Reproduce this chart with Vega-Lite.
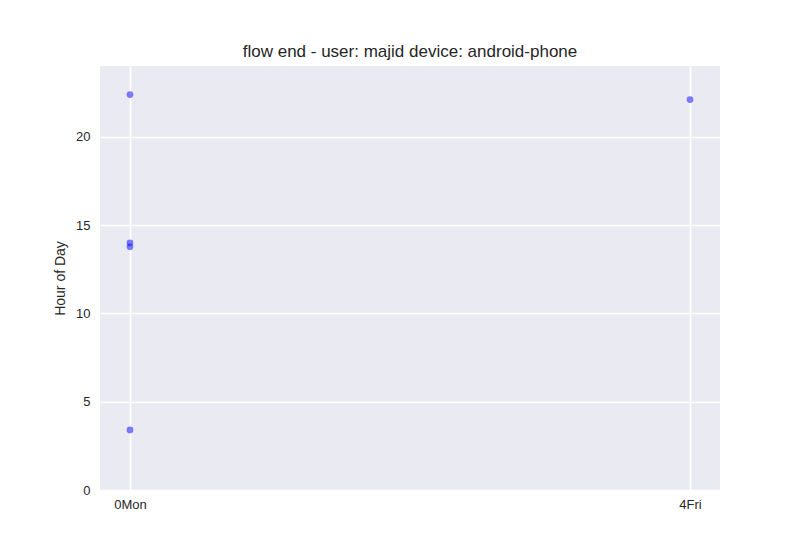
{
  "$schema": "https://vega.github.io/schema/vega-lite/v6.json",
  "width": 620,
  "height": 424,
  "autosize": {"type": "none"},
  "padding": {"left": 100, "top": 66, "right": 80, "bottom": 60},
  "background": "white",
  "title": {"text": "flow end - user: majid device: android-phone", "font": "Liberation Sans", "fontSize": 17, "fontWeight": "normal", "color": "#262626", "offset": 5},
  "config": {
    "view": {"fill": "#EAEAF2", "stroke": null},
    "axis": {"labelFont": "Liberation Sans", "titleFont": "Liberation Sans", "labelColor": "#262626", "titleColor": "#262626", "labelFontSize": 13, "titleFontSize": 14, "titleFontWeight": "normal", "ticks": false, "domain": false, "grid": true, "gridColor": "white", "gridWidth": 1.6}
  },
  "data": {"values": [
    {"day": 0, "hour": 22.38},
    {"day": 0, "hour": 13.99},
    {"day": 0, "hour": 13.77},
    {"day": 0, "hour": 3.40},
    {"day": 4, "hour": 22.10}
  ]},
  "mark": {"type": "circle", "size": 45, "color": "#0000ff", "opacity": 0.5},
  "encoding": {
    "x": {"field": "day", "type": "quantitative", "scale": {"domain": [-0.214, 4.214], "nice": false, "zero": false},
      "axis": {"title": null, "values": [0, 4], "labelExpr": "datum.value == 0 ? '0Mon' : '4Fri'", "labelPadding": 8}},
    "y": {"field": "hour", "type": "quantitative", "scale": {"domain": [0, 24], "nice": false},
      "axis": {"title": "Hour of Day", "values": [0, 5, 10, 15, 20], "labelPadding": 10, "titlePadding": 8}}
  }
}
